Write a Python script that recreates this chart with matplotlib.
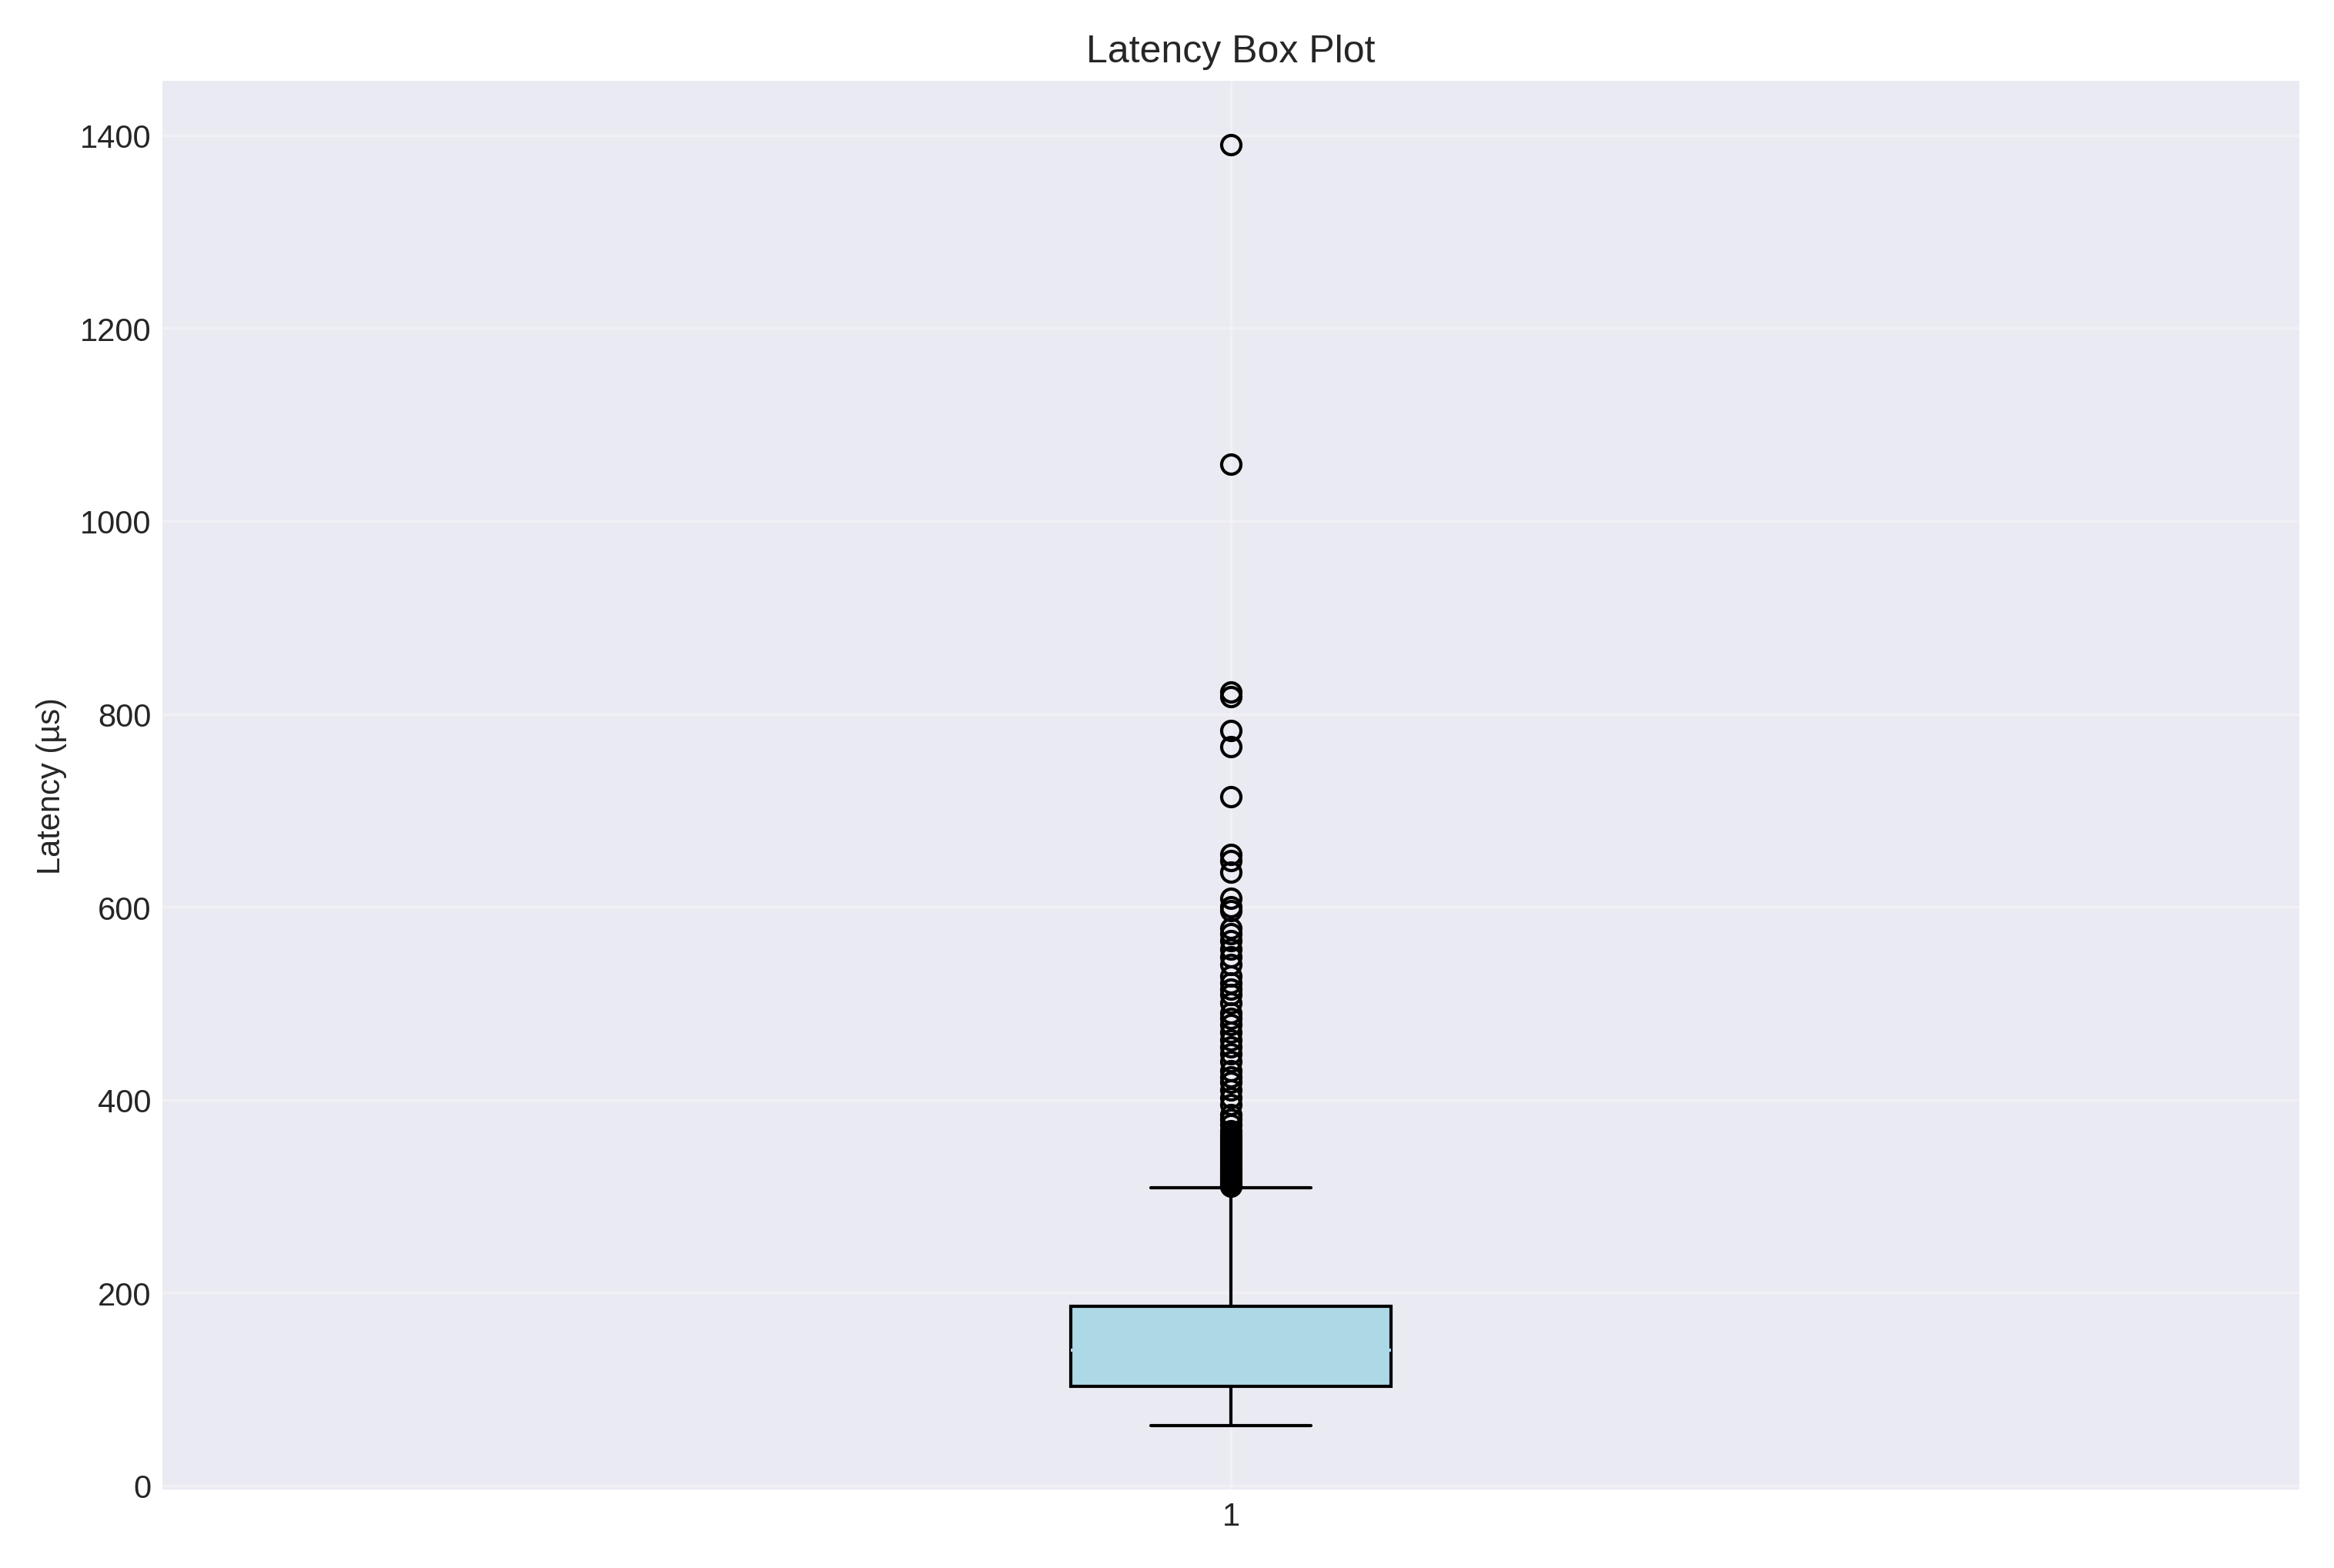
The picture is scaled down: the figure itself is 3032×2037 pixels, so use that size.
import matplotlib
matplotlib.use('Agg')
import matplotlib.pyplot as plt

plt.style.use('seaborn-v0_8-darkgrid')
plt.rcParams['font.family'] = ['Liberation Sans', 'DejaVu Sans']

# box statistics (µs)
whisker_low = 62
q1 = 103
median = 140
q3 = 186
whisker_high = 309
outliers = [1390, 1059, 823, 818, 783, 766, 714, 654, 648, 636, 609, 600, 596,
            578, 572, 565, 556, 548, 540, 528, 521, 515, 509, 500, 490, 484, 478,
            470, 462, 455, 448, 440, 430, 424, 418, 410, 402, 395, 385, 380, 374,
            368, 364, 361, 358, 355, 352, 349, 346, 343, 340, 337, 334, 331, 328,
            326, 324, 322, 320, 318, 316, 314, 312, 311, 310]

stats = [{'whislo': whisker_low, 'q1': q1, 'med': median, 'q3': q3,
          'whishi': whisker_high, 'fliers': outliers, 'label': '1'}]

fig, ax = plt.subplots(figsize=(10.107, 6.793))
ax.bxp(stats, widths=0.15, patch_artist=True,
       boxprops=dict(facecolor='lightblue', edgecolor='black'),
       medianprops=dict(color='lightblue'),
       whiskerprops=dict(color='black'), capprops=dict(color='black'),
       flierprops=dict(marker='o', markerfacecolor='none', markeredgecolor='black'))

ax.set_title('Latency Box Plot')
ax.set_ylabel('Latency (µs)')
ax.grid(True, alpha=0.3)

plt.tight_layout()
plt.savefig('out.png', dpi=300)
